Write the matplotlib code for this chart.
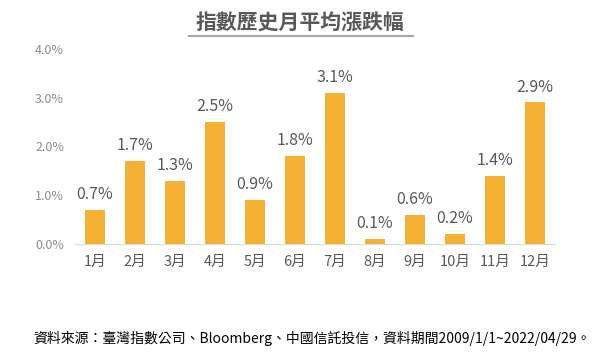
import matplotlib
matplotlib.use("Agg")
import matplotlib.pyplot as plt

plt.rcParams['font.family'] = ['Noto Sans CJK TC', 'DejaVu Sans']

months = ["1月", "2月", "3月", "4月", "5月", "6月", "7月", "8月", "9月", "10月", "11月", "12月"]
returns = [0.7, 1.7, 1.3, 2.5, 0.9, 1.8, 3.1, 0.1, 0.6, 0.2, 1.4, 2.9]
yticks = [0.0, 1.0, 2.0, 3.0, 4.0]

fig = plt.figure(figsize=(6, 3.54), dpi=100)
ax = fig.add_axes([0.125, 0.311, 0.80, 0.551])

x = range(len(months))
ax.bar(x, returns, width=0.48, color="#F4B133")

for i, v in zip(x, returns):
    ax.text(i, v + 0.14, f"{v:.1f}%", ha="center", va="bottom", fontsize=11.5, color="#595959")

ax.set_xlim(-0.5, len(months) - 0.5)
ax.set_ylim(0, 4.0)
ax.set_yticks(yticks)
ax.set_yticklabels([f"{t:.1f}%" for t in yticks], fontsize=9, color="#8c8c8c")
ax.set_xticks(list(x))
ax.set_xticklabels(months, fontsize=10.5, color="#595959")
ax.tick_params(length=0, pad=8)
ax.tick_params(axis="y", pad=8)

for s in ["top", "right", "left"]:
    ax.spines[s].set_visible(False)
ax.spines["bottom"].set_color("#d9d9d9")

fig.text(0.5, 0.935, "指數歷史月平均漲跌幅", ha="center", va="center",
         fontsize=15, fontweight="bold", color="#595959")
fig.add_artist(plt.Line2D([0.315, 0.688], [0.897, 0.897], color="#a6a6a6", lw=1.5))

fig.text(0.055, 0.045, "資料來源：臺灣指數公司、Bloomberg、中國信託投信，資料期間2009/1/1~2022/04/29。",
         ha="left", va="center", fontsize=10, color="black")

fig.savefig("out.png", dpi=100)
